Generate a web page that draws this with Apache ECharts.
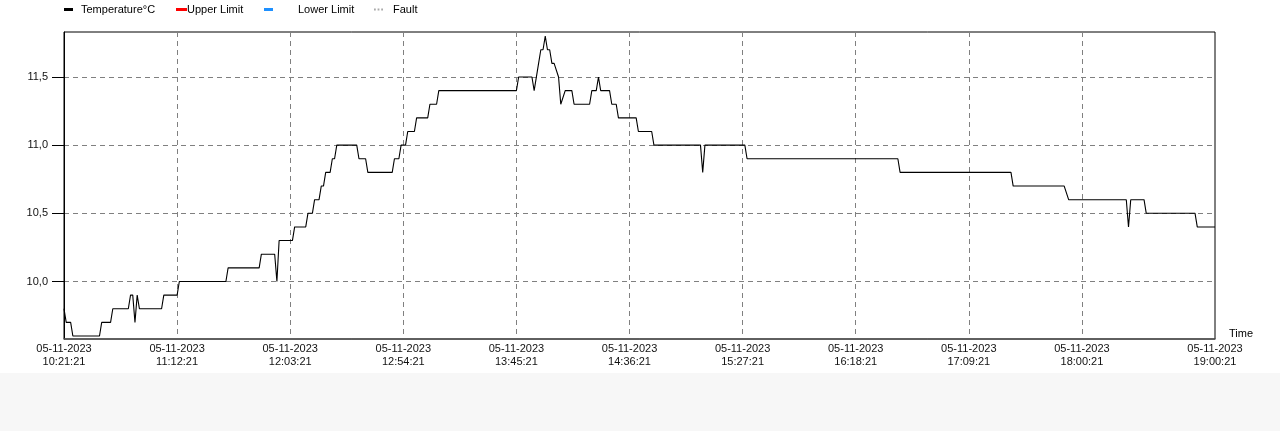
<!DOCTYPE html>
<html>
<head>
<meta charset="utf-8">
<script src="https://cdn.jsdelivr.net/npm/echarts@6/dist/echarts.min.js"></script>
<style>
html,body{margin:0;padding:0;background:#f7f7f7;}
#chart{width:1280px;height:373px;background:#ffffff;}
</style>
</head>
<body>
<div id="chart"></div>
<script>
// ---- data ----
const dateLabel = '05-11-2023';
const times = [
  '10:21:21','10:22:21','10:24:21','10:25:21','10:37:21','10:38:21','10:42:21','10:43:21','10:50:21','10:51:21',
  '10:52:21','10:53:21','10:54:21','10:55:21','11:05:21','11:06:21','11:12:21','11:13:21','11:34:21','11:35:21',
  '11:49:21','11:50:21','11:56:21','11:57:21','11:58:21','12:04:21','12:05:21','12:10:21','12:11:21','12:13:21',
  '12:14:21','12:16:21','12:17:21','12:18:21','12:19:21','12:21:21','12:22:21','12:23:21','12:24:21','12:33:21',
  '12:34:21','12:37:21','12:38:21','12:49:21','12:50:21','12:52:21','12:53:21','12:55:21','12:56:21','12:59:21',
  '13:00:21','13:05:21','13:06:21','13:09:21','13:10:21','13:45:21','13:46:21','13:52:21','13:53:21','13:55:21',
  '13:56:21','13:57:21','13:58:21','13:59:21','14:00:21','14:01:21','14:02:21','14:04:21','14:05:21','14:07:21',
  '14:10:21','14:11:21','14:18:21','14:19:21','14:21:21','14:22:21','14:23:21','14:27:21','14:28:21','14:30:21',
  '14:31:21','14:39:21','14:40:21','14:46:21','14:47:21','15:08:21','15:09:21','15:10:21','15:28:21','15:29:21',
  '16:37:21','16:38:21','17:28:21','17:29:21','17:52:21','17:54:21','18:20:21','18:21:21','18:22:21','18:28:21',
  '18:29:21','18:51:21','18:52:21','19:00:21'
];
const temperature = [
  9.8, 9.7, 9.7, 9.6, 9.6, 9.7, 9.7, 9.8, 9.8, 9.9,
  9.9, 9.7, 9.9, 9.8, 9.8, 9.9, 9.9, 10.0, 10.0, 10.1,
  10.1, 10.2, 10.2, 10.0, 10.3, 10.3, 10.4, 10.4, 10.5, 10.5,
  10.6, 10.6, 10.7, 10.7, 10.8, 10.8, 10.9, 10.9, 11.0, 11.0,
  10.9, 10.9, 10.8, 10.8, 10.9, 10.9, 11.0, 11.0, 11.1, 11.1,
  11.2, 11.2, 11.3, 11.3, 11.4, 11.4, 11.5, 11.5, 11.4, 11.6,
  11.7, 11.7, 11.8, 11.7, 11.7, 11.6, 11.6, 11.5, 11.3, 11.4,
  11.4, 11.3, 11.3, 11.4, 11.4, 11.5, 11.4, 11.4, 11.3, 11.3,
  11.2, 11.2, 11.1, 11.1, 11.0, 11.0, 10.8, 11.0, 11.0, 10.9,
  10.9, 10.8, 10.8, 10.7, 10.7, 10.6, 10.6, 10.4, 10.6, 10.6,
  10.5, 10.5, 10.4, 10.4
];
const upperLimit = [];
const lowerLimit = [];
const fault = [];
const xLabelTimes = ['10:21:21','11:12:21','12:03:21','12:54:21','13:45:21','14:36:21','15:27:21','16:18:21','17:09:21','18:00:21','19:00:21'];
const xGridTimes = ['11:12:21','12:03:21','12:54:21','13:45:21','14:36:21','15:27:21','16:18:21','17:09:21','18:00:21'];
const yTicks = [10.0, 10.5, 11.0, 11.5];

// ---- helpers ----
function toMs(t){ const p=t.split(':').map(Number); return Date.UTC(2023,10,5,p[0],p[1],p[2]); }
function pad(n){ return (n<10?'0':'')+n; }
function fmtTime(ms){ const d=new Date(ms); return pad(d.getUTCHours())+':'+pad(d.getUTCMinutes())+':'+pad(d.getUTCSeconds()); }

const FONT = '"Liberation Sans", Arial, sans-serif';
const tempData = times.map((t,i)=>[toMs(t), temperature[i]]);

const chart = echarts.init(document.getElementById('chart'), null, {renderer:'canvas'});
const legendBase = {top: 4, padding: 0, itemHeight: 3, textStyle: {fontFamily: FONT, fontSize: 11, color: '#000'}};
chart.setOption({
  animation: false,
  backgroundColor: '#ffffff',
  legend: [
    Object.assign({}, legendBase, {left: 64, itemWidth: 9, icon: 'rect', data: ['Temperature°C'],
      textStyle: Object.assign({}, legendBase.textStyle, {padding: [0,0,0,3]})}),
    Object.assign({}, legendBase, {left: 176, itemWidth: 11, icon: 'rect', data: ['Upper Limit'],
      textStyle: Object.assign({}, legendBase.textStyle, {padding: [0,0,0,-5]})}),
    Object.assign({}, legendBase, {left: 264, itemWidth: 9, icon: 'rect', data: ['Lower Limit'],
      textStyle: Object.assign({}, legendBase.textStyle, {padding: [0,0,0,20]})}),
    Object.assign({}, legendBase, {left: 374, itemWidth: 9, icon: 'path://M0,0h2v2h-2zM4,0h2v2h-2zM8,0h2v2h-2z', data: ['Fault'],
      textStyle: Object.assign({}, legendBase.textStyle, {padding: [0,0,0,5]})})
  ],
  grid: {left: 64, right: 65, top: 32, bottom: 34, show: true, borderColor: '#000', borderWidth: 1, containLabel: false},
  xAxis: {
    type: 'value',
    min: toMs(xLabelTimes[0]),
    max: toMs(xLabelTimes[xLabelTimes.length-1]),
    name: 'Time',
    nameLocation: 'end',
    nameGap: 14,
    nameTextStyle: {fontFamily: FONT, fontSize: 11, color: '#000', verticalAlign: 'bottom', padding: [0,0,0,0]},
    axisLine: {show: true, lineStyle: {color: '#555', width: 1.5}},
    axisTick: {show: false, customValues: xGridTimes.map(toMs)},
    axisLabel: {
      customValues: xLabelTimes.map(toMs),
      fontFamily: FONT, fontSize: 11, color: '#111', margin: 3, lineHeight: 13,
      formatter: v => dateLabel + '\n' + fmtTime(v),
      showMinLabel: true, showMaxLabel: true, hideOverlap: false
    },
    splitLine: {show: true, lineStyle: {color: '#808080', width: 1, type: [5,4]}}
  },
  yAxis: {
    type: 'value',
    min: 9.578,
    max: 11.83,
    axisLine: {show: true, lineStyle: {color: '#000', width: 1}},
    axisTick: {show: true, inside: false, length: 12, lineStyle: {color: '#000', width: 1}, customValues: yTicks},
    axisLabel: {
      customValues: yTicks,
      fontFamily: FONT, fontSize: 11, color: '#111', margin: 16, padding: [4,0,0,0],
      formatter: v => v.toFixed(1).replace('.', ',')
    },
    splitLine: {show: true, lineStyle: {color: '#808080', width: 1, type: [5,4]}}
  },
  series: [
    {name: 'Temperature°C', type: 'line', data: tempData, showSymbol: false, symbol: 'none',
      lineStyle: {color: '#000', width: 1.1}, itemStyle: {color: '#000'}},
    {name: 'Upper Limit', type: 'line', data: upperLimit, showSymbol: false, symbol: 'none',
      lineStyle: {color: '#ff0000', width: 1}, itemStyle: {color: '#ff0000'}},
    {name: 'Lower Limit', type: 'line', data: lowerLimit, showSymbol: false, symbol: 'none',
      lineStyle: {color: '#1e90ff', width: 1}, itemStyle: {color: '#1e90ff'}},
    {name: 'Fault', type: 'line', data: fault, showSymbol: false, symbol: 'none',
      lineStyle: {color: '#aaaaaa', width: 1, type: 'dotted'}, itemStyle: {color: '#aaaaaa'}}
  ]
});
</script>
</body>
</html>
